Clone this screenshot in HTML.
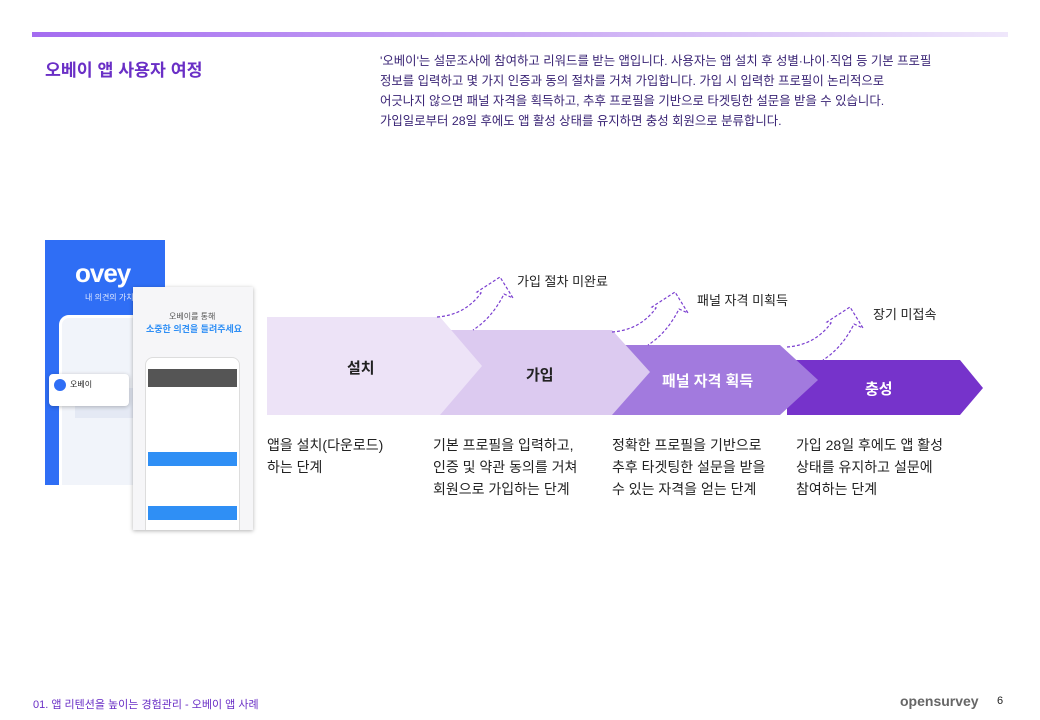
<!DOCTYPE html>
<html><head><meta charset="utf-8"><style>
*{margin:0;padding:0;box-sizing:border-box}
body{width:1040px;height:720px;background:#fff;position:relative;overflow:hidden;font-family:"Liberation Sans","Noto Sans CJK KR",sans-serif}
.a{position:absolute;white-space:nowrap}
.desc{font-size:14px;line-height:22px;color:#222}
</style></head><body>
<div class="a" style="left:32px;top:32px;width:976px;height:5px;background:linear-gradient(90deg,#a46cf0,#c9a8f4 50%,#efe7fb)"></div>
<div class="a" style="left:45px;top:56px;font-size:17.3px;font-weight:bold;color:#6a2fc6">오베이 앱 사용자 여정</div>
<div class="a" style="left:380px;top:51px;font-size:12.4px;line-height:20px;color:#3a2475">'오베이'는 설문조사에 참여하고 리워드를 받는 앱입니다. 사용자는 앱 설치 후 성별·나이·직업 등 기본 프로필<br>정보를 입력하고 몇 가지 인증과 동의 절차를 거쳐 가입합니다. 가입 시 입력한 프로필이 논리적으로<br>어긋나지 않으면 패널 자격을 획득하고, 추후 프로필을 기반으로 타겟팅한 설문을 받을 수 있습니다.<br>가입일로부터 28일 후에도 앱 활성 상태를 유지하면 충성 회원으로 분류합니다.</div>

<!-- phone mockups -->
<div class="a" style="left:45px;top:240px;width:120px;height:245px;background:#2f6ef5;overflow:hidden">
 <div class="a" style="left:30px;top:18px;font-size:26px;font-weight:bold;color:#fff;letter-spacing:-1px">ovey</div>
 <div class="a" style="left:40px;top:52px;font-size:8px;color:#dfe8ff">내 의견의 가치</div>
 <div class="a" style="left:14px;top:75px;width:120px;height:190px;background:#f1f4fa;border-radius:10px;border:3px solid #fff"></div>
 <div class="a" style="left:30px;top:148px;width:90px;height:30px;background:#e4e9f4"></div>
</div>
<div class="a" style="left:49px;top:374px;width:80px;height:32px;background:#fff;border-radius:4px;box-shadow:0 1px 4px rgba(0,0,0,.25)">
 <div class="a" style="left:5px;top:5px;width:12px;height:12px;border-radius:6px;background:#2f6ef5"></div>
 <div class="a" style="left:21px;top:5px;font-size:8px;color:#222">오베이</div>
</div>
<div class="a" style="left:133px;top:287px;width:120px;height:243px;background:#f6f6f8;box-shadow:0 1px 4px rgba(0,0,0,.3);overflow:hidden">
 <div class="a" style="left:36px;top:24px;font-size:8px;color:#555">오베이를 통해</div>
 <div class="a" style="left:13px;top:35px;font-size:9px;font-weight:bold;color:#2f8ff5">소중한 의견을 들려주세요</div>
 <div class="a" style="left:12px;top:70px;width:95px;height:190px;background:#fff;border-radius:8px;border:1px solid #ddd"></div>
 <div class="a" style="left:15px;top:82px;width:89px;height:18px;background:#555"></div>
 <div class="a" style="left:15px;top:165px;width:89px;height:14px;background:#2f8ff5"></div>
 <div class="a" style="left:15px;top:219px;width:89px;height:14px;background:#2f8ff5"></div>
</div>

<svg class="a" style="left:0;top:0" width="1040" height="720">
 <polygon points="787,360 960,360 983,388 960,415 787,415" fill="#7633cb"/>
 <polygon points="605,345 780,345 818,380 780,415 605,415" fill="#a27ade"/>
 <polygon points="430,330 612,330 650,372 612,415 430,415" fill="#dccaf0"/>
 <polygon points="267,317 440,317 482,366 440,415 267,415" fill="#ede3f7"/>
 <g fill="none" stroke="#7b3fd0" stroke-width="1.2" stroke-dasharray="3,2">
  <path d="M437,317 Q465,315 481,293 L477,292 L500,277 L513,298 L504,294 Q492,318 473,330"/>
  <path transform="translate(175,15)" d="M437,317 Q465,315 481,293 L477,292 L500,277 L513,298 L504,294 Q492,318 473,330"/>
  <path transform="translate(350,30)" d="M437,317 Q465,315 481,293 L477,292 L500,277 L513,298 L504,294 Q492,318 473,330"/>
 </g>
</svg>
<div class="a" style="left:517px;top:271px;font-size:13px;color:#222">가입 절차 미완료</div>
<div class="a" style="left:697px;top:290px;font-size:13px;color:#222">패널 자격 미획득</div>
<div class="a" style="left:873px;top:304px;font-size:13px;color:#222">장기 미접속</div>
<div class="a" style="left:347px;top:357px;font-size:15px;font-weight:bold;color:#222">설치</div>
<div class="a" style="left:526px;top:364px;font-size:15px;font-weight:bold;color:#222">가입</div>
<div class="a" style="left:662px;top:370px;font-size:15px;font-weight:bold;color:#fff">패널 자격 획득</div>
<div class="a" style="left:865px;top:378px;font-size:15px;font-weight:bold;color:#fff">충성</div>

<div class="a desc" style="left:267px;top:434px">앱을 설치(다운로드)<br>하는 단계</div>
<div class="a desc" style="left:433px;top:434px">기본 프로필을 입력하고,<br>인증 및 약관 동의를 거쳐<br>회원으로 가입하는 단계</div>
<div class="a desc" style="left:612px;top:434px">정확한 프로필을 기반으로<br>추후 타겟팅한 설문을 받을<br>수 있는 자격을 얻는 단계</div>
<div class="a desc" style="left:796px;top:434px">가입 28일 후에도 앱 활성<br>상태를 유지하고 설문에<br>참여하는 단계</div>

<div class="a" style="left:33px;top:696px;font-size:11px;color:#6a2fc6">01. 앱 리텐션을 높이는 경험관리 - 오베이 앱 사례</div>
<div class="a" style="left:900px;top:693px;font-size:14px;font-weight:bold;color:#666">opensurvey</div>
<div class="a" style="left:997px;top:695px;font-size:11px;color:#222">6</div>
</body></html>
